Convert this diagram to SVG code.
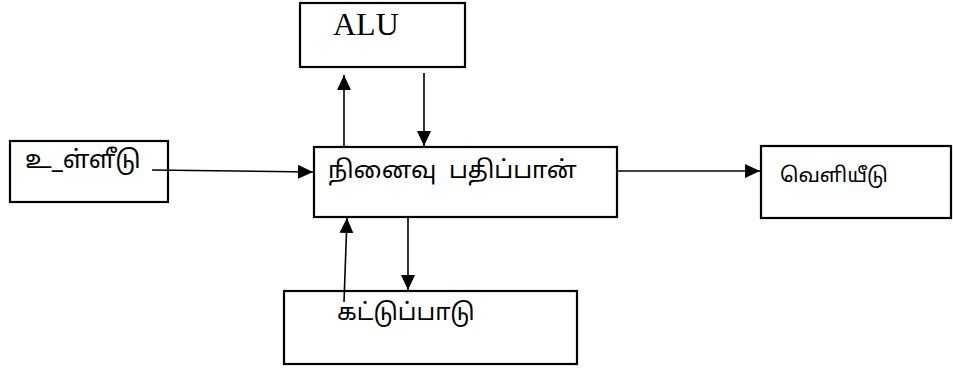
<svg xmlns="http://www.w3.org/2000/svg" width="953" height="369" viewBox="0 0 953 369">
<defs>
<style>
.box{fill:#fff;stroke:#000;stroke-width:2.2}
.ln{stroke:#000;stroke-width:1.6;fill:none}
.ta{font-family:"Noto Sans Tamil","Latha","Noto Sans","DejaVu Sans",sans-serif;fill:#000;white-space:pre}
.lat{font-family:"Liberation Serif","Times New Roman",serif;fill:#000}
</style>
<marker id="ahs" viewBox="0 0 15 14" refX="15" refY="7" markerWidth="15" markerHeight="14" markerUnits="userSpaceOnUse" orient="auto">
<path d="M0,0 L15,7 L0,14 z" fill="#000"/>
</marker>
</defs>
<g id="alu">
<rect class="box" x="300" y="3" width="165" height="64"/>
<text class="lat" x="333" y="35" font-size="32">ALU</text>
</g>
<g id="input">
<rect class="box" x="10" y="141" width="158" height="61"/>
<text class="ta" x="25" y="168" font-size="25">உ_ள்ளீடு</text>
</g>
<g id="memory">
<rect class="box" x="314" y="147" width="303" height="70"/>
<text class="ta" x="328" y="178" font-size="24.3" xml:space="preserve">நினைவு  பதிப்பான்</text>
</g>
<g id="output">
<rect class="box" x="761" y="146" width="190" height="72"/>
<text class="ta" x="780" y="182" font-size="20.5">வெளியீடு</text>
</g>
<g id="control">
<rect class="box" x="284" y="291" width="293" height="73"/>
<text class="ta" x="337" y="320" font-size="24">கட்டுப்பாடு</text>
</g>
<g id="connectors">
<line class="ln" x1="344" y1="147" x2="344" y2="75" marker-end="url(#ahs)"/>
<line class="ln" x1="424" y1="73" x2="424" y2="146" marker-end="url(#ahs)"/>
<line class="ln" x1="152" y1="170" x2="313" y2="172" marker-end="url(#ahs)"/>
<line class="ln" x1="617" y1="171" x2="760" y2="171" marker-end="url(#ahs)"/>
<line class="ln" x1="344" y1="302" x2="347" y2="218" marker-end="url(#ahs)"/>
<line class="ln" x1="408" y1="217" x2="408" y2="290" marker-end="url(#ahs)"/>
</g>
</svg>
